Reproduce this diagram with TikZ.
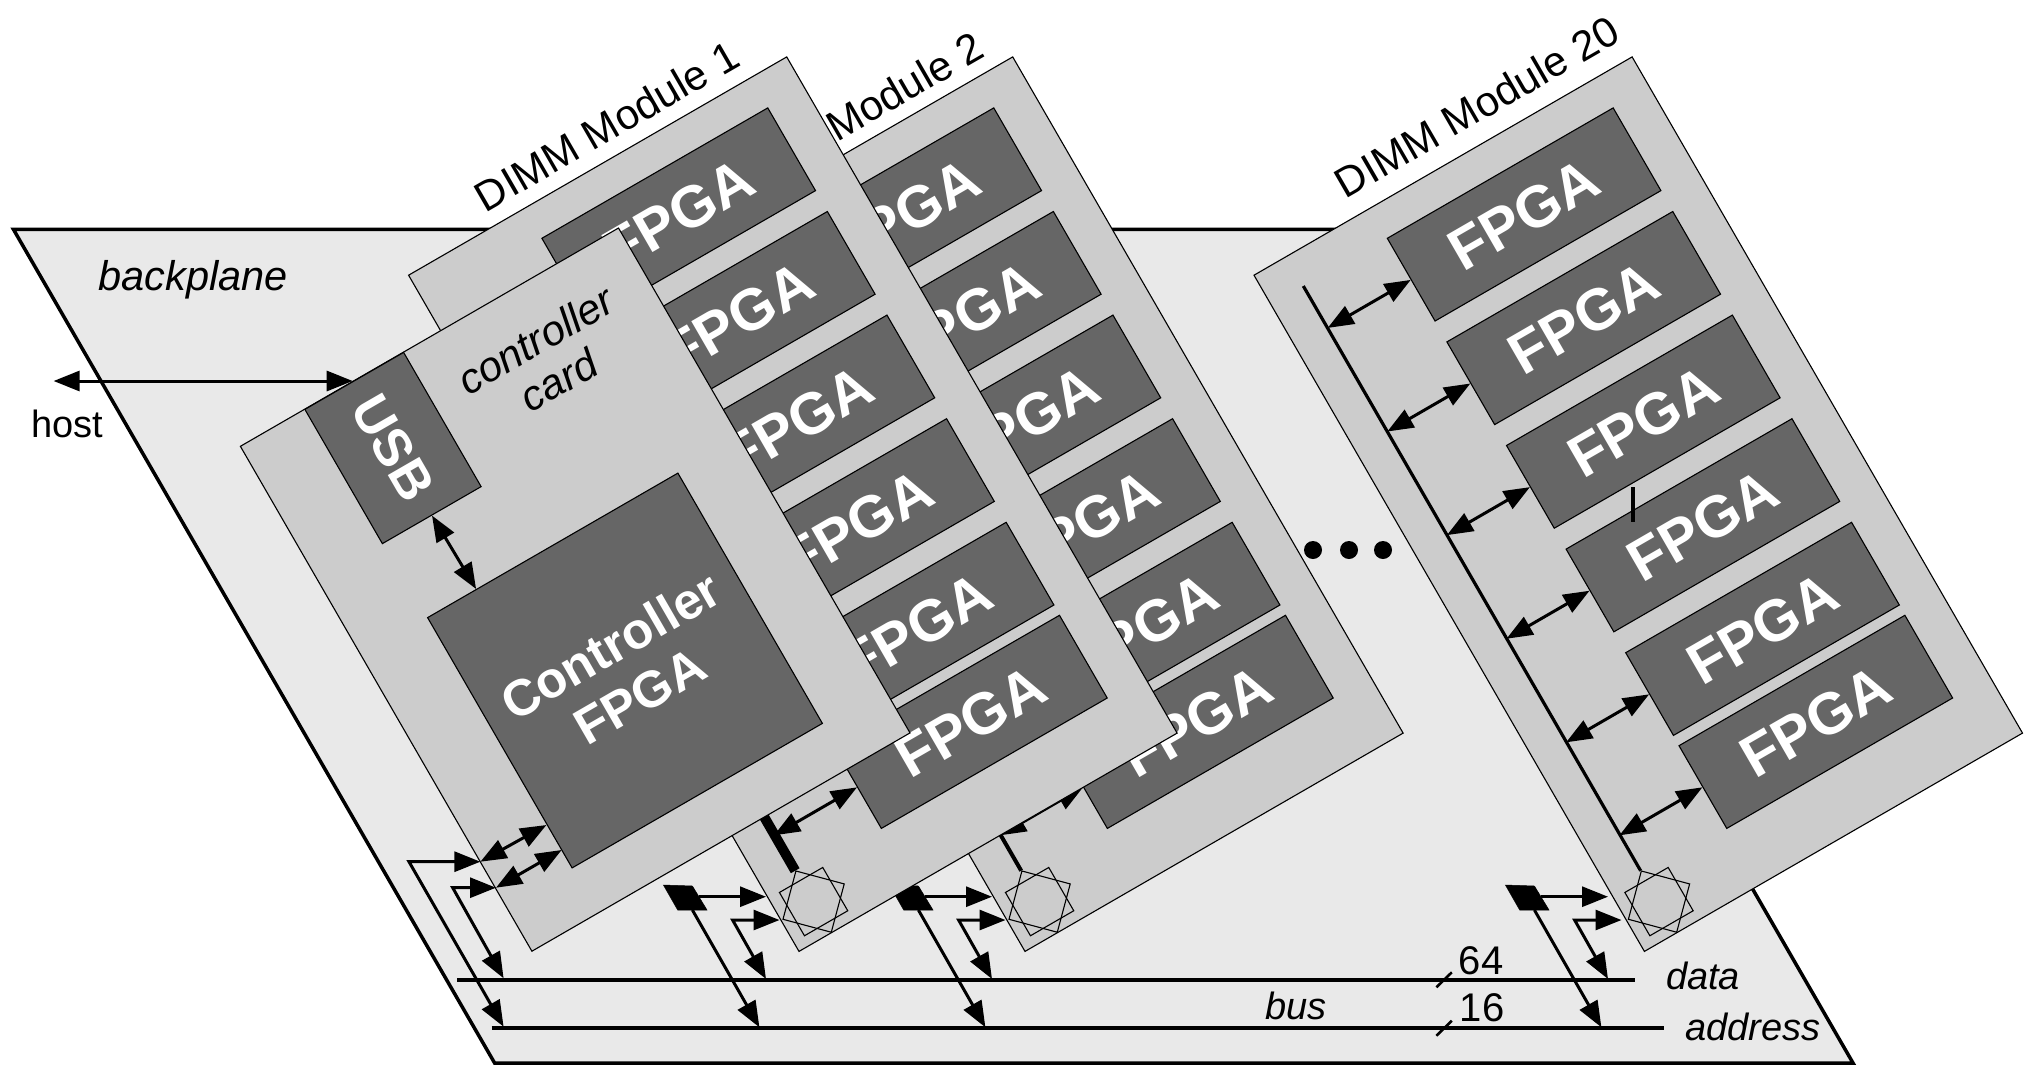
\documentclass[tikz,border=0pt]{standalone}
\usepackage{fontspec}
\setmainfont{Liberation Sans}
\usetikzlibrary{arrows.meta,calc}
\definecolor{plane}{HTML}{E9E9E9}
\definecolor{cardgray}{HTML}{CCCCCC}
\definecolor{chipgray}{HTML}{666666}
\newcommand{\bigfont}{\fontsize{58.5}{60}\selectfont\bfseries}
\newcommand{\lblfont}{\fontsize{42}{44}\selectfont}
\newcommand{\smfont}{\fontsize{38}{40}\selectfont}
\tikzset{
  card/.style={draw=black,line width=1.1pt,fill=cardgray,rotate=30,inner sep=0pt},
  dimmcard/.style={card,minimum width=436.6pt,minimum height=780.8pt},
  chip/.style={draw=black,line width=1.1pt,fill=chipgray,text=white,inner sep=0pt,font=\bigfont},
  fpgachip/.style={chip,rotate=30,minimum width=260.8pt,minimum height=95.5pt},
  dbl/.style={line width=3pt,{Triangle[length=26pt,width=20pt]}-{Triangle[length=26pt,width=20pt]}},
  wire/.style={line width=3pt,-{Triangle[length=26pt,width=20pt]}},
  busline/.style={line width=3.2pt},
  starsq/.style={draw=black,line width=1.1pt,minimum size=50pt,inner sep=0pt},
  latch/.style={fill=black,draw=black,line width=.5pt},
  lbl/.style={inner sep=0pt,align=center}
}
% card of one DIMM module: #1 name, #2 x offset, #3 width of the bus line, #4 share of the bus hidden at its top
\newcommand{\dimmmodule}[4]{%
  \begin{scope}[shift={(#2,0)}]
    \node[dimmcard] (#1card) at (792.85,504.15) {};
    \foreach \i/\dx/\dy in {1/0/0,2/59.6/103.6,3/119.2/207.2,4/178.8/310.8,5/238.4/414.4,6/291.7/507.4}{
      \node[fpgachip] (#1f\i) at ($(678.7,214.45)+(\dx,\dy)$) {FPGA};
      \coordinate (#1b\i) at ($(#1f\i.west)+(-83,48)$);
    }
    \node[starsq,rotate=30] (#1sa) at (813.6,901.6) {};
    \node[starsq,rotate=-15] (#1sb) at (813.6,901.6) {};
    \coordinate (#1bs) at ($(457.9,286)!#4!(795.2,870.7)$);
    \coordinate (#1be) at (795.2,870.7);
    \draw[line width=#3pt] (#1bs) -- (#1be);
    \foreach \i in {1,...,6}{\draw[dbl] (#1b\i) -- (#1f\i.west);}
  \end{scope}
}
% bus interface of one DIMM module: #1 name, #2 x offset
\newcommand{\dimmwires}[2]{%
  \begin{scope}[shift={(#2,0)}]
    \coordinate (#1l1) at (663.4,885);
    \coordinate (#1l2) at (692.4,886);
    \coordinate (#1l3) at (707,910);
    \coordinate (#1l4) at (677.7,910);
    \fill[latch] (#1l1) -- (#1l2) -- (#1l3) -- (#1l4) -- cycle;
    \coordinate (#1ao) at (699,896.7);
    \coordinate (#1at) at (766,896.7);
    \coordinate (#1ds) at (692.4,910);
    \coordinate (#1dt) at (759.4,1027.3);
    \coordinate (#1ca) at (732.6,920);
    \coordinate (#1cb) at (779.5,920);
    \coordinate (#1cd) at (766,979);
    \draw[wire] (#1ao) -- (#1at);
    \draw[wire] (#1ds) -- (#1dt);
    \draw[dbl] (#1cb) -- (#1ca) -- (#1cd);
  \end{scope}
}
\begin{document}
\begin{tikzpicture}[x=1pt,y=-1pt]
  \useasboundingbox (0,0) rectangle (2034,1085);
  % backplane
  \coordinate (p1) at (13.4,229.3);
  \coordinate (p2) at (1372,229.3);
  \coordinate (p3) at (1853,1063);
  \coordinate (p4) at (494.6,1063);
  \draw[fill=plane,line width=3.5pt,line join=miter] (p1) -- (p2) -- (p3) -- (p4) -- cycle;
  % dots
  \foreach \n/\x in {a/1313,b/1349,c/1383}{\node[circle,fill=black,inner sep=0pt,minimum size=18pt] (dot\n) at (\x,550) {};}
  % buses
  \coordinate (ds) at (457,980);
  \coordinate (de) at (1635,980);
  \coordinate (as) at (491.5,1028);
  \coordinate (ae) at (1663.6,1028);
  \draw[busline] (ds) -- (de);
  \draw[busline] (as) -- (ae);
  \coordinate (sa1) at (1436.4,987.3);
  \coordinate (sa2) at (1451.8,972.3);
  \coordinate (sb1) at (1436.4,1035.7);
  \coordinate (sb2) at (1451.8,1020.7);
  \draw[line width=2.6pt] (sa1) -- (sa2);
  \draw[line width=2.6pt] (sb1) -- (sb2);
  \node[lbl,font=\fontsize{40}{42}\selectfont] (n64) at (1481,961) {64};
  \node[lbl,font=\fontsize{40}{42}\selectfont] (n16) at (1482,1008) {16};
  \node[lbl,font=\smfont\itshape] (ndata) at (1703,976) {data};
  \node[lbl,font=\smfont\itshape] (naddr) at (1752.6,1027) {address};
  \node[lbl,font=\smfont\itshape] (nbus) at (1296,1006) {bus};
  \node[lbl,font=\fontsize{41.5}{44}\selectfont\itshape] (nback) at (193,280) {backplane};
  \node[lbl,font=\fontsize{38}{40}\selectfont] (nhost) at (67,424) {host};
  % module 20
  \node[lbl,font=\lblfont,rotate=30] (l20) at (1476.7,106.7) {DIMM Module 20};
  \dimmmodule{mt}{845.4}{3.2}{0}
  \dimmwires{mt}{842}
  % module 2
  \node[lbl,font=\lblfont,rotate=30] (l2) at (851,117) {DIMM Module 2};
  \dimmmodule{mb}{226}{4}{0.5}
  \dimmwires{mb}{226}
  % module 1
  \node[lbl,font=\lblfont,rotate=30] (l1) at (606.7,126) {DIMM Module 1};
  \dimmmodule{ma}{0}{10}{0.5}
  \dimmwires{ma}{0}
  % controller card
  \coordinate (hosttip) at (53.6,381);
  \coordinate (usbtip) at (352.7,381);
  \draw[dbl] (hosttip) -- (usbtip);
  \node[card,minimum width=436.6pt,minimum height=583pt] (ctl) at (575.2,589.6) {};
  \node[chip,rotate=-60,minimum width=155pt,minimum height=114pt,font=\fontsize{53}{55}\selectfont\bfseries] (usb) at (393,448) {USB};
  \node[chip,rotate=30,minimum size=289pt,align=center,font=\fontsize{51}{58}\selectfont\bfseries] (ctlf) at (625,670.5) {Controller\\FPGA};
  \node[lbl,rotate=30,font=\fontsize{42}{46}\selectfont\itshape] (nctl) at (547,360) {controller\\card};
  \coordinate (cf1) at ($(ctlf.north west)!0.196!(ctlf.north east)$);
  \draw[dbl] (usb.east) -- (cf1);
  % controller connections
  \coordinate (ca1) at (480.4,861.7);
  \coordinate (ca2) at (546.4,825);
  \coordinate (cb1) at (496,887.7);
  \coordinate (cb2) at (561.6,850);
  \draw[dbl] (ca1) -- (ca2);
  \draw[dbl] (cb1) -- (cb2);
  \coordinate (ka) at (409,861.7);
  \coordinate (kat) at (503.6,1026.7);
  \coordinate (kb) at (452.7,887.7);
  \coordinate (kbt) at (503.6,978.3);
  \draw[dbl] (ca1) -- (ka) -- (kat);
  \draw[dbl] (cb1) -- (kb) -- (kbt);
  % stray tick on module 20
  \coordinate (t1) at (1633.3,487);
  \coordinate (t2) at (1633.3,522);
  \draw[line width=4pt] (t1) -- (t2);
\end{tikzpicture}
\end{document}
